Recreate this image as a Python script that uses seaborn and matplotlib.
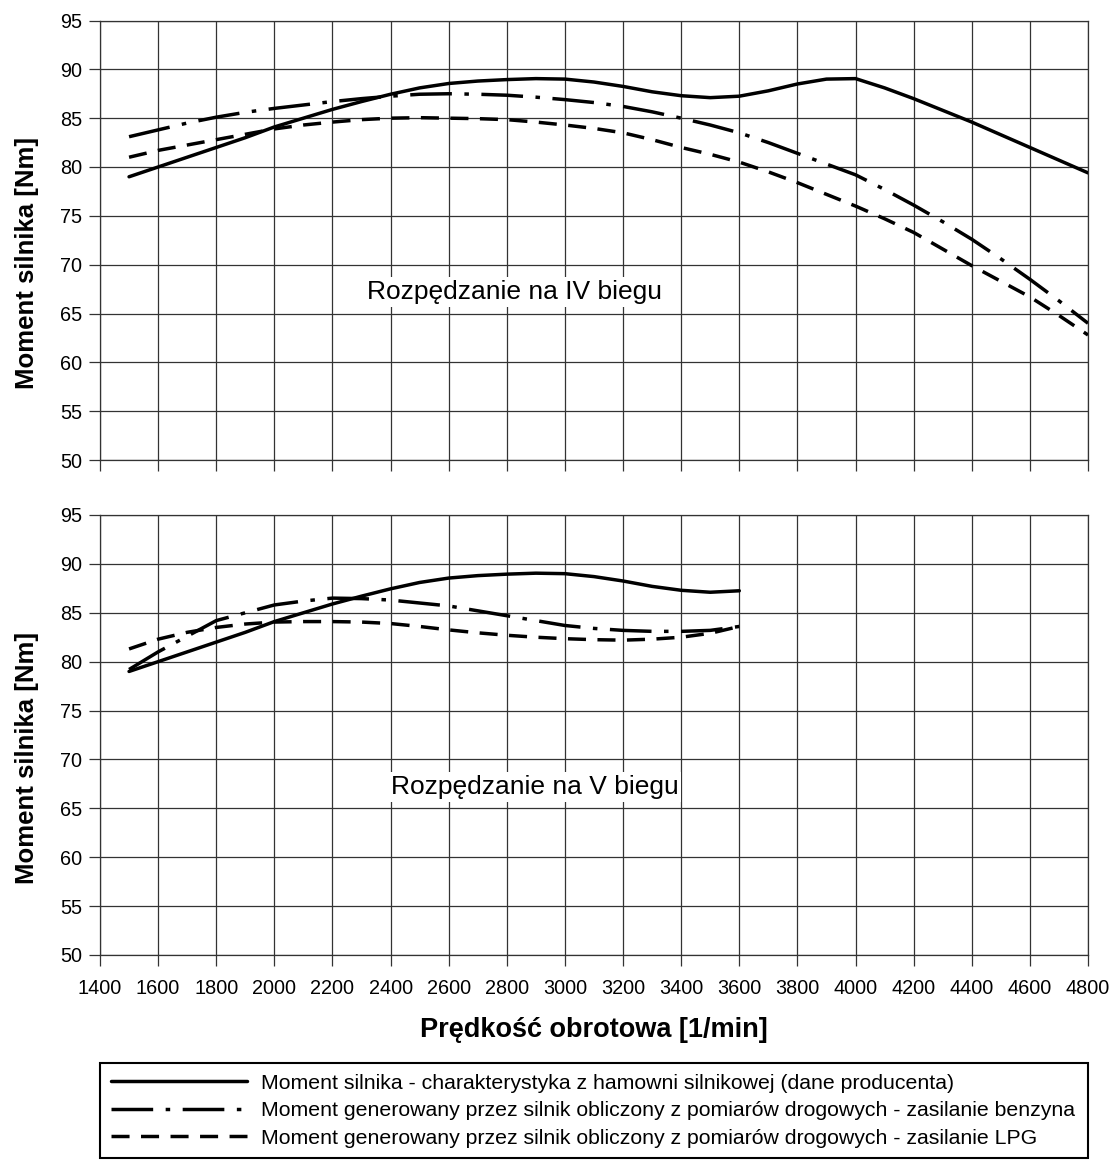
import matplotlib
matplotlib.use("Agg")
import matplotlib.pyplot as plt
import seaborn as sns
import pandas as pd

## Data
rpm_iv = [1500, 1600, 1700, 1800, 1900, 2000, 2100, 2200, 2300, 2400, 2500, 2600,
          2700, 2800, 2900, 3000, 3100, 3200, 3300, 3400, 3500, 3600, 3700, 3800,
          3900, 4000, 4100, 4200, 4300, 4400, 4500, 4600, 4700, 4800]
producer_iv = [79.0, 80.0, 81.0, 82.0, 83.0, 84.1, 85.0, 85.9, 86.7, 87.45, 88.1, 88.55,
               88.8, 88.95, 89.05, 89.0, 88.7, 88.25, 87.7, 87.3, 87.1, 87.25, 87.8, 88.5,
               89.0, 89.05, 88.1, 87.0, 85.8, 84.6, 83.3, 82.0, 80.7, 79.4]
petrol_iv = [83.1, 83.8, 84.5, 85.1, 85.6, 86.0, 86.35, 86.7, 87.0, 87.25, 87.45, 87.5,
             87.45, 87.35, 87.15, 86.9, 86.6, 86.2, 85.65, 85.0, 84.3, 83.5, 82.5, 81.4,
             80.3, 79.2, 77.7, 76.1, 74.4, 72.6, 70.6, 68.5, 66.3, 64.0]
lpg_iv = [81.0, 81.7, 82.25, 82.8, 83.35, 83.9, 84.3, 84.6, 84.85, 85.0, 85.05, 85.0,
          84.95, 84.85, 84.6, 84.3, 83.95, 83.5, 82.8, 82.0, 81.3, 80.5, 79.5, 78.4,
          77.2, 76.0, 74.7, 73.3, 71.6, 69.9, 68.3, 66.7, 64.8, 62.8]

rpm_v = [1500, 1600, 1700, 1800, 1900, 2000, 2100, 2200, 2300, 2400, 2500,
         2600, 2700, 2800, 2900, 3000, 3100, 3200, 3300, 3400, 3500, 3600]
producer_v = [79.0, 80.0, 81.0, 82.0, 83.0, 84.1, 85.0, 85.9, 86.7, 87.45, 88.1,
              88.55, 88.8, 88.95, 89.05, 89.0, 88.7, 88.25, 87.7, 87.3, 87.1, 87.25]
petrol_v = [79.2, 81.0, 82.6, 84.2, 85.0, 85.8, 86.2, 86.5, 86.45, 86.3, 86.0,
            85.7, 85.2, 84.7, 84.2, 83.7, 83.4, 83.2, 83.1, 83.1, 83.2, 83.6]
lpg_v = [81.3, 82.3, 83.0, 83.5, 83.85, 84.05, 84.1, 84.1, 84.05, 83.9, 83.6,
         83.25, 82.95, 82.7, 82.5, 82.35, 82.25, 82.2, 82.3, 82.5, 82.9, 83.6]

labels = ['Moment silnika - charakterystyka z hamowni silnikowej (dane producenta)',
          'Moment generowany przez silnik obliczony z pomiarów drogowych - zasilanie benzyna',
          'Moment generowany przez silnik obliczony z pomiarów drogowych - zasilanie LPG']
styles = ['-', (0, (12, 3.6, 1.3, 3.6)), (0, (5.2, 3.3))]

panels = [
    ('Rozpędzanie na IV biegu', 2825, pd.DataFrame({'rpm': rpm_iv, 'p': producer_iv, 'b': petrol_iv, 'l': lpg_iv})),
    ('Rozpędzanie na V biegu', 2895, pd.DataFrame({'rpm': rpm_v, 'p': producer_v, 'b': petrol_v, 'l': lpg_v})),
]

sns.set_theme(style='white')
plt.rcParams['font.family'] = ['Liberation Sans', 'DejaVu Sans']
plt.rcParams.update({'text.color': 'black', 'axes.labelcolor': 'black',
                     'xtick.color': 'black', 'ytick.color': 'black'})

W, H = 1109, 1166
fig = plt.figure(figsize=(W / 100, H / 100), dpi=100)
ax_top = fig.add_axes([100 / W, 1 - 460 / H, 988 / W, 439.5 / H])
ax_bot = fig.add_axes([100 / W, 1 - 955 / H, 988 / W, 440 / H], sharex=ax_top)

grid_col = '#333333'
for ax, (title, tx, df) in zip([ax_top, ax_bot], panels):
    for col, ls, lab in zip(['p', 'b', 'l'], styles, labels):
        sns.lineplot(data=df, x='rpm', y=col, ax=ax, color='black', lw=2.5,
                     linestyle=ls, label=lab, legend=False, zorder=3)
    ax.set_xlim(1400, 4800)
    ax.set_ylim(50, 95)
    ax.set_xticks(range(1400, 4801, 200))
    ax.set_yticks(range(50, 96, 5))
    ax.grid(True, color=grid_col, lw=0.9)
    for s in ax.spines.values():
        s.set_color(grid_col)
        s.set_linewidth(0.9)
    ax.tick_params(axis='both', direction='out', length=8, width=0.9, color=grid_col,
                   labelsize=14.3, labelcolor='black', bottom=True, left=True)
    ax.tick_params(axis='x', pad=9)
    ax.tick_params(axis='y', pad=5)
    ax.set_ylabel('Moment silnika [Nm]', fontsize=18.5, fontweight='bold', color='black')
    ax.yaxis.set_label_coords(-0.062, 0.448)
    ax.set_xlabel('')
    ax.text(tx, 67.2, title, ha='center', va='center', fontsize=19, zorder=4,
            color='black', bbox=dict(fc='white', ec='none', pad=2))

ax_top.tick_params(axis='x', labelbottom=False)
ax_bot.set_xlabel('Prędkość obrotowa [1/min]', fontsize=19.5, fontweight='bold',
                  color='black', labelpad=14)

handles = ax_top.get_lines()[:3]
leg = fig.legend(handles, labels, loc='upper left',
                 bbox_to_anchor=(100 / W, 1 - 1163 / H, 988 / W, 100 / H),
                 mode='expand', borderaxespad=0, fontsize=15.3, handlelength=6.4,
                 handletextpad=0.67, labelspacing=0.4, borderpad=0.5,
                 fancybox=False, framealpha=1, edgecolor='black')
leg.get_frame().set_linewidth(1.5)
for t in leg.get_texts():
    t.set_color('black')

fig.savefig('out.png', dpi=100)
plt.close(fig)
